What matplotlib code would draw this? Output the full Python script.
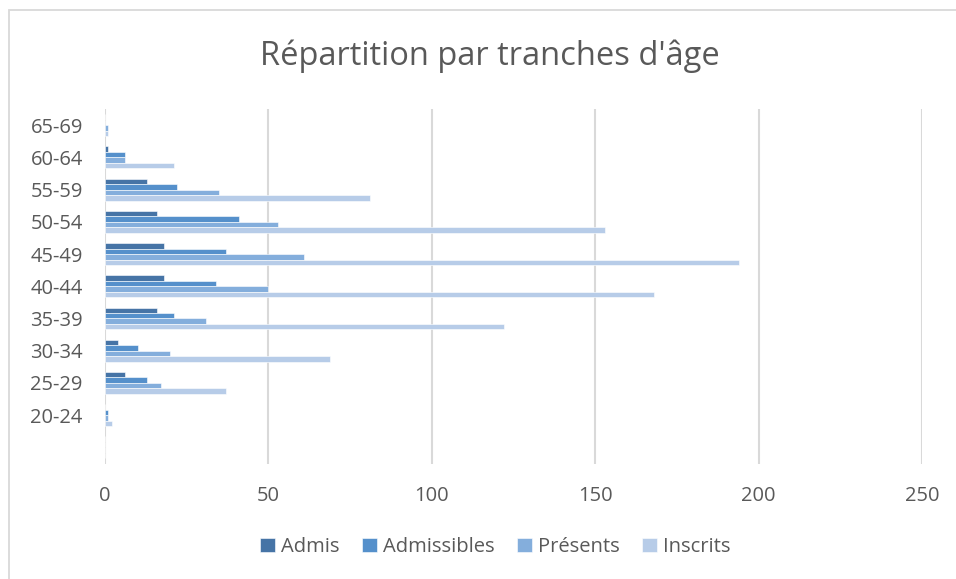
import matplotlib.pyplot as plt
import matplotlib.patches as mpatches
import numpy as np

# age groups, bottom to top (empty slot at the bottom as in the original)
categories = ["", "20-24", "25-29", "30-34", "35-39", "40-44",
              "45-49", "50-54", "55-59", "60-64", "65-69"]

admis = [0, 0, 6, 4, 16, 18, 18, 16, 13, 1, 0]
admissibles = [0, 1, 13, 10, 21, 34, 37, 41, 22, 6, 0]
presents = [0, 1, 17, 20, 31, 50, 61, 53, 35, 6, 1]
inscrits = [0, 2, 37, 69, 122, 168, 194, 153, 81, 21, 1]

series = [
    ("Admis", admis, "#4674A6"),
    ("Admissibles", admissibles, "#5590CB"),
    ("Présents", presents, "#84AEDC"),
    ("Inscrits", inscrits, "#B7CCE8"),
]

text_color = "#595959"
grid_color = "#D9D9D9"
plt.rcParams['font.family'] = ['Open Sans', 'DejaVu Sans']

fig = plt.figure(figsize=(9.56, 5.79), dpi=100)
ax = fig.add_axes([105 / 956, 1 - 463.5 / 579, 817 / 956, 354.5 / 579])

# outer chart frame
fig.patches.append(mpatches.Rectangle((9 / 956, -0.2), 1.2, 1.2 - 10 / 579,
                                      transform=fig.transFigure, fill=False,
                                      edgecolor=grid_color, linewidth=1.3))

y = np.arange(len(categories))
h = 0.17
for i, (name, vals, col) in enumerate(series):
    ax.barh(y + (1.5 - i) * h, vals, height=h, color=col, label=name,
            edgecolor="white", linewidth=0.4)

ax.set_xlim(0, 250)
ax.set_ylim(-0.5, len(categories) - 0.5)
ax.set_xticks([0, 50, 100, 150, 200, 250])
ax.set_yticks(y)
ax.set_yticklabels(categories)
ax.xaxis.grid(True, color=grid_color, linewidth=1.5)
ax.set_axisbelow(True)
for s in ax.spines.values():
    s.set_visible(False)
ax.tick_params(axis="both", length=0, labelsize=14.5, colors=text_color)
ax.tick_params(axis="x", pad=16)
ax.tick_params(axis="y", pad=16)

fig.text(490 / 956, 1 - 56 / 579, "Répartition par tranches d'âge",
         ha="center", va="center", fontsize=23.5, color=text_color)

leg = fig.legend(loc="center", bbox_to_anchor=(495 / 956, 1 - 547 / 579),
                 ncol=4, frameon=False, fontsize=14.5, handlelength=0.75,
                 handleheight=0.75, handletextpad=0.3, columnspacing=1.1)
for t in leg.get_texts():
    t.set_color(text_color)

fig.savefig("out.png", dpi=100)
